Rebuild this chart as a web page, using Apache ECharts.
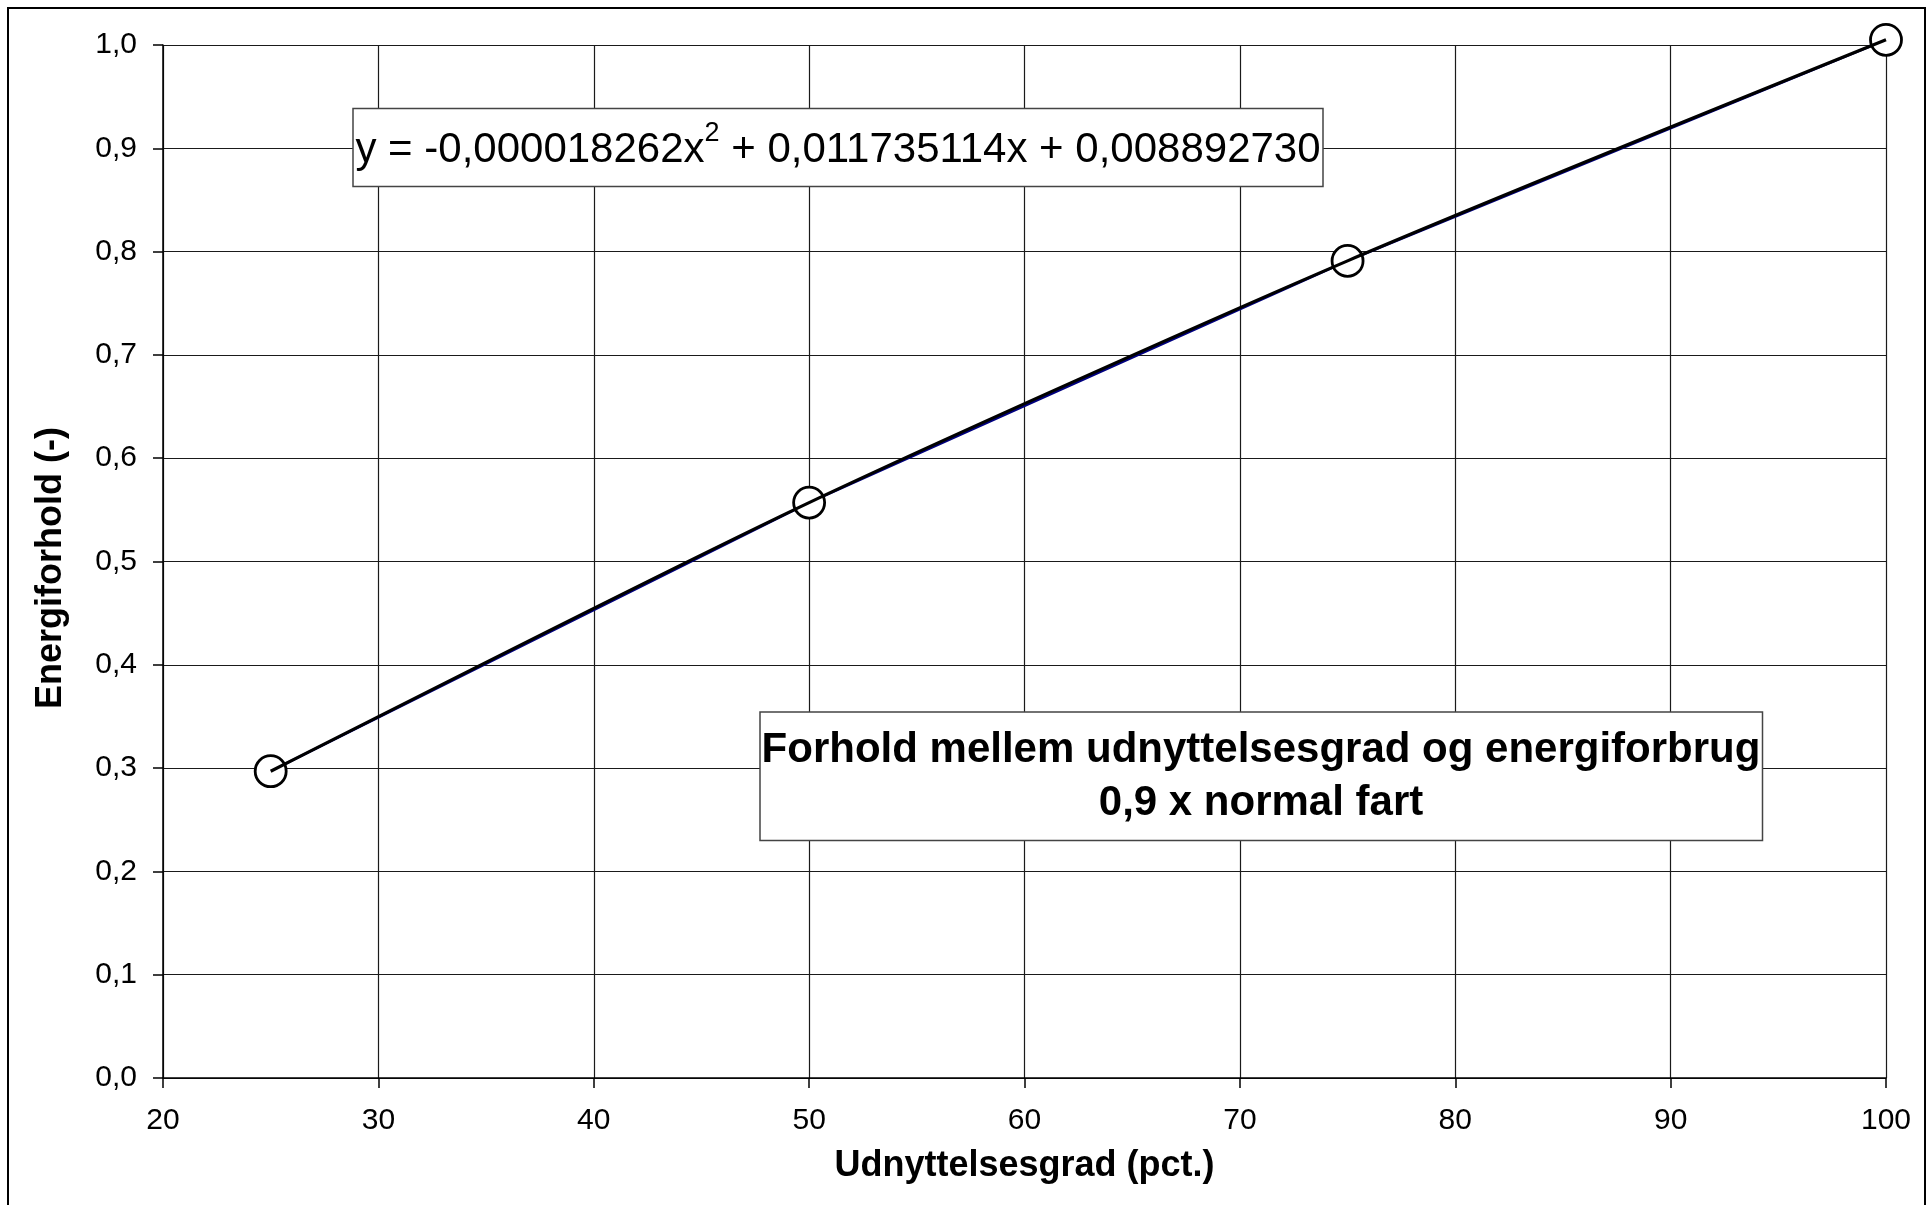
<!DOCTYPE html>
<html>
<head>
<meta charset="utf-8">
<script src="https://cdn.jsdelivr.net/npm/echarts@6/dist/echarts.min.js"></script>
<style>
html,body{margin:0;padding:0;background:#fff;}
#c{width:1930px;height:1205px;}
</style>
</head>
<body>
<div id="c"></div>
<script>
// Data
const xValues = [25, 50, 75, 100];
const yValues = [0.297, 0.557, 0.791, 1.005];
const xTicks = [20, 30, 40, 50, 60, 70, 80, 90, 100];
const yTicks = [0.0, 0.1, 0.2, 0.3, 0.4, 0.5, 0.6, 0.7, 0.8, 0.9, 1.0];
const xTitle = 'Udnyttelsesgrad (pct.)';
const yTitle = 'Energiforhold (-)';
const equationParts = ['y = -0,000018262x', '2', ' + 0,011735114x + 0,008892730'];
const chartTitleLines = ['Forhold mellem udnyttelsesgrad og energiforbrug', '0,9 x normal fart'];

const FONT = '"Liberation Sans", Arial, Helvetica, sans-serif';
const points = xValues.map((x, i) => [x, yValues[i]]);

const chart = echarts.init(document.getElementById('c'), null, {renderer: 'canvas'});

const GRID = {left: 163, right: 44, top: 45, bottom: 127};

chart.setOption({
  backgroundColor: '#ffffff',
  animation: false,
  grid: GRID,
  xAxis: {
    type: 'value',
    min: xTicks[0],
    max: xTicks[xTicks.length - 1],
    interval: 10,
    axisLine: {show: true, onZero: false, lineStyle: {color: '#000', width: 1.5}},
    axisTick: {show: true, inside: false, length: 10, lineStyle: {color: '#000', width: 1.5}},
    splitLine: {show: true, lineStyle: {color: '#1a1a1a', width: 1.2}},
    axisLabel: {color: '#000', fontFamily: FONT, fontSize: 30, margin: 28,
      formatter: v => String(v)}
  },
  yAxis: {
    type: 'value',
    min: yTicks[0],
    max: yTicks[yTicks.length - 1],
    interval: 0.1,
    axisLine: {show: true, lineStyle: {color: '#000', width: 1.5}},
    axisTick: {show: true, inside: false, length: 10, lineStyle: {color: '#000', width: 1.5}},
    splitLine: {show: true, lineStyle: {color: '#1a1a1a', width: 1.2}},
    axisLabel: {color: '#000', fontFamily: FONT, fontSize: 30, margin: 26,
      formatter: v => v.toFixed(1).replace('.', ',')}
  },
  series: [
    {
      name: 'data',
      type: 'line',
      data: points,
      clip: false,
      lineStyle: {color: '#000080', width: 2.5},
      symbol: 'circle',
      symbolSize: 31,
      itemStyle: {color: '#ffffff', borderColor: '#000', borderWidth: 2.8},
      z: 2
    },
    {
      name: 'trend',
      type: 'line',
      data: points,
      clip: false,
      smooth: 0.25,
      showSymbol: false,
      symbol: 'none',
      lineStyle: {color: '#000', width: 3.2},
      z: 3
    }
  ],
  graphic: [
    {type: 'rect', shape: {x: 8, y: 8, width: 1917, height: 1260},
      style: {fill: 'none', stroke: '#000', lineWidth: 2}, silent: true, z: 100},
    {type: 'rect', shape: {x: 353, y: 108.5, width: 970, height: 78},
      style: {fill: '#fff', stroke: '#444', lineWidth: 1.5}, z: 50},
    {type: 'text', x: 838, y: 150, z: 51,
      style: {
        text: '{a|' + equationParts[0] + '}{s|' + equationParts[1] + '}{a|' + equationParts[2] + '}',
        align: 'center', verticalAlign: 'middle',
        rich: {
          a: {fontFamily: FONT, fontSize: 42, lineHeight: 60, fill: '#000', verticalAlign: 'middle'},
          s: {fontFamily: FONT, fontSize: 27, lineHeight: 27, fill: '#000', verticalAlign: 'top'}
        }
      }},
    {type: 'rect', shape: {x: 760, y: 712, width: 1002.5, height: 128.5},
      style: {fill: '#fff', stroke: '#444', lineWidth: 1.5}, z: 50},
    {type: 'text', x: 1261, y: 777, z: 51,
      style: {text: chartTitleLines.join('\n'), align: 'center', verticalAlign: 'middle',
        fontFamily: FONT, fontSize: 42, fontWeight: 'bold', lineHeight: 53, fill: '#000'}},
    {type: 'text', x: 1024.5, y: 1166, z: 51,
      style: {text: xTitle, align: 'center', verticalAlign: 'middle',
        fontFamily: FONT, fontSize: 36, fontWeight: 'bold', fill: '#000'}},
    {type: 'text', x: 51, y: 568, rotation: Math.PI / 2, z: 51,
      style: {text: yTitle, align: 'center', verticalAlign: 'middle',
        fontFamily: FONT, fontSize: 36, fontWeight: 'bold', fill: '#000'}}
  ]
});
</script>
</body>
</html>
